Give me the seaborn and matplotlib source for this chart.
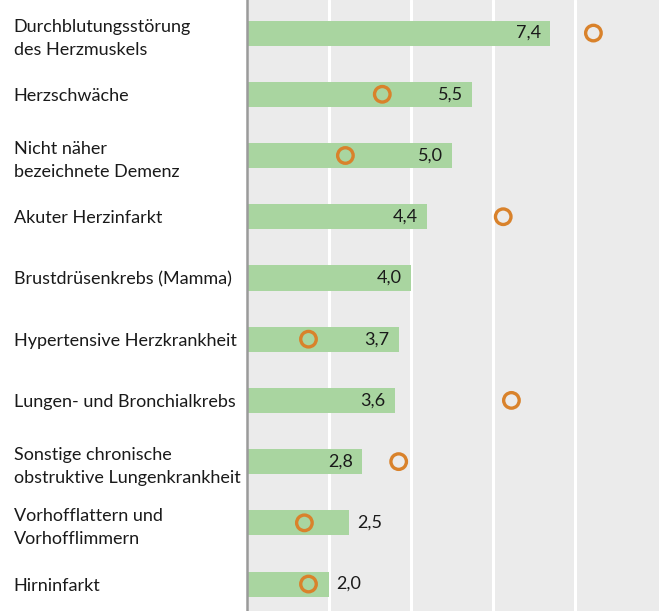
import numpy as np
import pandas as pd
import matplotlib
matplotlib.use("Agg")
import matplotlib.pyplot as plt
import seaborn as sns

labels = [
    "Durchblutungsstörung\ndes Herzmuskels",
    "Herzschwäche",
    "Nicht näher\nbezeichnete Demenz",
    "Akuter Herzinfarkt",
    "Brustdrüsenkrebs (Mamma)",
    "Hypertensive Herzkrankheit",
    "Lungen- und Bronchialkrebs",
    "Sonstige chronische\nobstruktive Lungenkrankheit",
    "Vorhofflattern und\nVorhofflimmern",
    "Hirninfarkt",
]
women = [7.4, 5.5, 5.0, 4.4, 4.0, 3.7, 3.6, 2.8, 2.5, 2.0]
men = [8.45, 3.3, 2.4, 6.25, np.nan, 1.5, 6.45, 3.7, 1.4, 1.5]

df = pd.DataFrame({"label": labels, "women": women, "men": men})

sns.set_style("white")
plt.rcParams["font.family"] = ["Lato", "DejaVu Sans"]

fig = plt.figure(figsize=(6.59, 6.11), dpi=100)
ax = fig.add_axes([247 / 659, 0, 412 / 659, 1])
ax.set_facecolor("#ebebeb")

sns.barplot(data=df, x="women", y="label", orient="h", color="#a9d5a0",
            saturation=1, width=0.41, linewidth=0, ax=ax, zorder=2)
sns.scatterplot(data=df, x="men", y="label", marker="o", s=125,
                facecolors="none", edgecolor="#d9822b", linewidth=2.4,
                ax=ax, zorder=3)

ax.set_xlim(0, 10.05)
ax.set_ylim(9.44, -0.54)
ax.set_xticks([2, 4, 6, 8])
ax.xaxis.grid(True, color="white", linewidth=2.2, zorder=1)
ax.set_axisbelow(True)
ax.tick_params(axis="x", length=0, labelbottom=False)
ax.tick_params(axis="y", length=0, pad=168)
for t in ax.get_yticklabels():
    t.set_ha("left")
    t.set_fontsize(13)
    t.set_color("#1a1a1a")
    t.set_linespacing(1.55)
ax.set_xlabel("")
ax.set_ylabel("")

for s in ["top", "right", "bottom"]:
    ax.spines[s].set_visible(False)
ax.spines["left"].set_color("#9a9a9a")
ax.spines["left"].set_linewidth(1.8)

for i, v in enumerate(women):
    txt = f"{v:.1f}".replace(".", ",")
    if v >= 2.8:
        ax.text(v - 0.22, i, txt, ha="right", va="center", fontsize=13,
                color="#1a1a1a", zorder=4)
    else:
        ax.text(v + 0.18, i, txt, ha="left", va="center", fontsize=13,
                color="#1a1a1a", zorder=4)

fig.savefig("out.png", dpi=100)
